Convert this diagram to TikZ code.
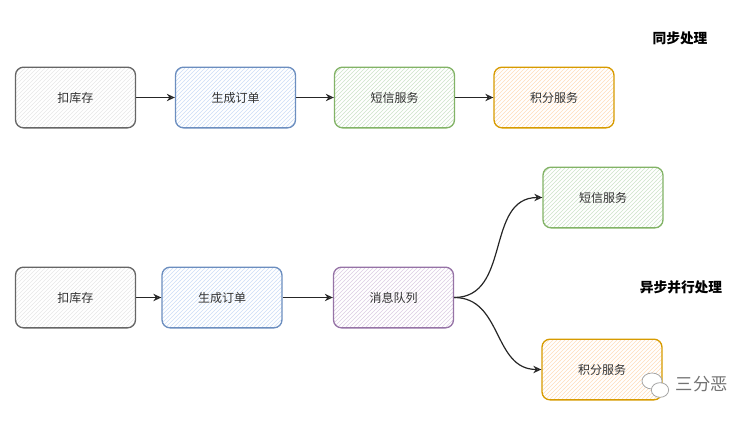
\documentclass[tikz,border=0pt]{standalone}
\usepackage{fontspec}
\setmainfont{Noto Sans CJK SC}
\usetikzlibrary{patterns,arrows.meta,shapes.geometric}
\definecolor{greyline}{HTML}{666666}
\definecolor{greyfill}{HTML}{E8E8E8}
\definecolor{blueline}{HTML}{6C8EBF}
\definecolor{bluefill}{HTML}{CCDDF7}
\definecolor{greenline}{HTML}{82B366}
\definecolor{greenfill}{HTML}{CDE3CA}
\definecolor{orangeline}{HTML}{D79B00}
\definecolor{orangefill}{HTML}{FFDDBB}
\definecolor{purpleline}{HTML}{9673A6}
\definecolor{purplefill}{HTML}{DCCDE3}
\tikzset{
        box/.style={rectangle, rounded corners=6pt, line width=1pt, minimum width=90pt, minimum height=45.5pt,
          inner sep=2pt, font=\fontsize{9}{11}\selectfont, text=black!80, preaction={fill=white}},
        greybox/.style={box, draw=greyline, pattern=north east lines, pattern color=greyfill},
        bluebox/.style={box, draw=blueline, pattern=north east lines, pattern color=bluefill},
        greenbox/.style={box, draw=greenline, pattern=north east lines, pattern color=greenfill},
        orangebox/.style={box, draw=orangeline, pattern=north east lines, pattern color=orangefill},
        purplebox/.style={box, draw=purpleline, pattern=north east lines, pattern color=purplefill},
        flow/.style={draw=black!85, line width=0.9pt, -{Stealth[open,length=6pt,width=5.5pt]}},
        heading/.style={font=\fontsize{10.3}{12}\selectfont\bfseries, text=black},
        watermark/.style={font=\fontsize{13}{15}\selectfont, text=black!55},
        bubble/.style={ellipse, draw=black!35, fill=white, line width=0.6pt, inner sep=0pt}
          }
\begin{document}
\begin{tikzpicture}[x=0.75pt, y=-0.75pt]
  \useasboundingbox (0,0) rectangle (751,421);
  % synchronous row
  \node[heading] (synclabel) at (680,38) {同步处理};
  \node[greybox] (stock) at (75.5,97.5) {扣库存};
  \node[bluebox] (order) at (235.5,97.5) {生成订单};
  \node[greenbox] (sms) at (394.5,97.5) {短信服务};
  \node[orangebox] (points) at (554,97.5) {积分服务};
  \draw[flow] (stock) -- (order);
  \draw[flow] (order) -- (sms);
  \draw[flow] (sms) -- (points);
  % asynchronous row
  \node[heading] (asynclabel) at (681,287) {异步并行处理};
  \node[greybox] (stock2) at (75.5,297.5) {扣库存};
  \node[bluebox] (order2) at (222,297.5) {生成订单};
  \node[purplebox] (mq) at (393.5,297.5) {消息队列};
  \node[greenbox] (sms2) at (603,197.5) {短信服务};
  \node[orangebox] (points2) at (602,369.5) {积分服务};
  \draw[flow] (stock2) -- (order2);
  \draw[flow] (order2) -- (mq);
  \draw[flow] (mq.east) to[out=0, in=180, looseness=1.1] (sms2.west);
  \draw[flow] (mq.east) to[out=0, in=180, looseness=1.1] (points2.west);
  % watermark
  \node[bubble, minimum width=15pt, minimum height=12pt] (bubble1) at (652,381) {};
  \node[bubble, minimum width=13pt, minimum height=11pt] (bubble2) at (660,390) {};
  \node[watermark, anchor=west] (author) at (671,384) {三分恶};
\end{tikzpicture}
\end{document}
